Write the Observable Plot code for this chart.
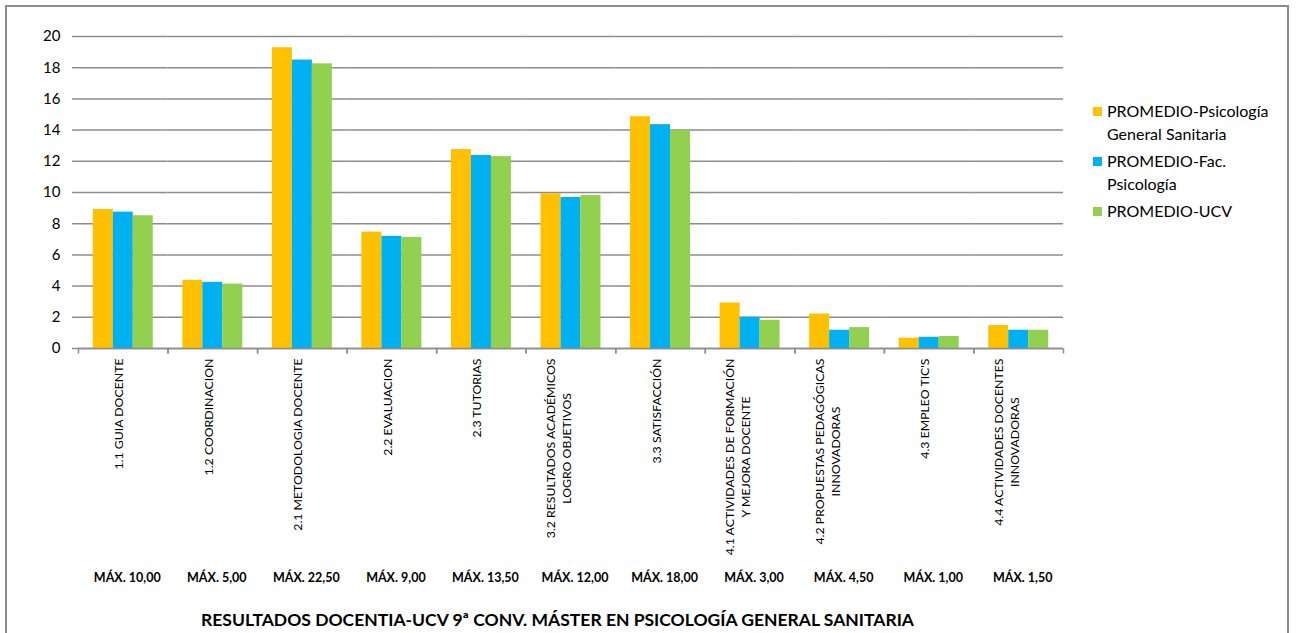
<!DOCTYPE html>
<html><head><meta charset="utf-8">
<script src="https://cdn.jsdelivr.net/npm/d3@7"></script>
<script src="https://cdn.jsdelivr.net/npm/@observablehq/plot@0.6"></script>
<style>
body{margin:0;background:#fff;font-family:Lato,sans-serif;}
#wrap{position:relative;width:1296px;height:633px;overflow:hidden;background:#fff;}
#border{position:absolute;left:5px;top:5px;width:1280px;height:700px;border:2px solid #8c8c8c;}
#chart{position:absolute;left:0;top:0;}
#legend{position:absolute;left:1093px;top:99px;width:186px;font-size:16px;line-height:23.3px;color:#000;}
.item{display:flex;align-items:flex-start;margin-bottom:3.5px;}
.sw{width:9px;height:9px;margin-top:8px;margin-right:5px;flex:none;}
#title{position:absolute;left:0;width:1115px;top:609px;text-align:center;font-weight:bold;font-size:17.5px;color:#000;}
</style></head>
<body>
<div id="wrap"><div id="border"></div><div id="chart"></div><div id="legend"></div><div id="title"></div></div>
<script>
const categories = [
  "1.1 GUIA DOCENTE",
  "1.2 COORDINACION",
  "2.1 METODOLOGIA DOCENTE",
  "2.2 EVALUACION",
  "2.3 TUTORIAS",
  "3.2 RESULTADOS ACADÉMICOS\nLOGRO OBJETIVOS",
  "3.3 SATISFACCIÓN",
  "4.1 ACTIVIDADES DE FORMACIÓN\nY MEJORA DOCENTE",
  "4.2 PROPUESTAS PEDAGÓGICAS\nINNOVADORAS",
  "4.3 EMPLEO TIC'S",
  "4.4 ACTIVIDADES DOCENTES\nINNOVADORAS"
];
const maxLabels = ["MÁX. 10,00","MÁX. 5,00","MÁX. 22,50","MÁX. 9,00","MÁX. 13,50","MÁX. 12,00","MÁX. 18,00","MÁX. 3,00","MÁX. 4,50","MÁX. 1,00","MÁX. 1,50"];
const series = ["PROMEDIO-Psicología General Sanitaria","PROMEDIO-Fac. Psicología","PROMEDIO-UCV"];
const promedioPGS = [8.91,4.37,19.28,7.46,12.75,9.92,14.86,2.92,2.21,0.66,1.47];
const promedioFac = [8.74,4.24,18.49,7.19,12.37,9.68,14.35,2.00,1.17,0.72,1.17];
const promedioUCV = [8.51,4.13,18.25,7.12,12.30,9.81,13.97,1.81,1.34,0.77,1.17];
const colors = ["#FFC000","#00B0F0","#92D050"];
const yTicks = [0,2,4,6,8,10,12,14,16,18,20];
const titleText = "RESULTADOS DOCENTIA-UCV 9ª CONV. MÁSTER EN PSICOLOGÍA GENERAL SANITARIA";

const valuesBySeries = [promedioPGS, promedioFac, promedioUCV];
const rows = [];
categories.forEach((c, i) => series.forEach((s, j) => rows.push({cat: c, series: s, value: valuesBySeries[j][i]})));

const W = 1296, H = 633, mt = 36, mb = 285, ml = 78, mr = 233;
const innerH = H - mt - mb;
const gray = "#8c8c8c";

const plot = Plot.plot({
  width: W, height: H,
  marginTop: mt, marginBottom: mb, marginLeft: ml, marginRight: mr,
  style: {fontFamily: "Lato, sans-serif", color: "#000", background: "transparent", overflow: "visible"},
  fx: {domain: categories, padding: 0, axis: null, round: false},
  x: {domain: series, paddingInner: 0, paddingOuter: 0.74, axis: null, round: false},
  y: {domain: [0, 20], axis: null},
  color: {domain: series, range: colors},
  marks: [
    Plot.gridY(yTicks, {stroke: gray, strokeOpacity: 1, strokeWidth: 1.5}),
    Plot.barY(rows, {fx: "cat", x: "series", y: "value", fill: "series"}),
    Plot.ruleY([0], {stroke: gray, strokeWidth: 1.5}),
    Plot.axisY(yTicks, {tickSize: 6, tickPadding: 12, fontSize: 15, stroke: gray, strokeWidth: 1.5, fill: "#000", line: true, label: null, tickFormat: d => String(d)}),
    Plot.frame({anchor: "left", insetTop: innerH, insetBottom: -5, stroke: gray, strokeWidth: 1.5, strokeLinecap: "butt"}),
    Plot.frame({anchor: "right", insetTop: innerH, insetBottom: -5, stroke: gray, strokeWidth: 1.5, strokeLinecap: "butt"}),
    Plot.text(categories, {fx: d => d, text: d => d, frameAnchor: "bottom", dy: 10, rotate: -90, textAnchor: "end", fontSize: 12.3, lineHeight: 1.3, fill: "#000"}),
    Plot.text(categories, {fx: d => d, text: (d, i) => maxLabels[i], frameAnchor: "bottom", dy: 233, dx: 4, fontWeight: "bold", fontSize: 12.5, lineAnchor: "bottom", fill: "#000"})
  ]
});
document.getElementById("chart").appendChild(plot);

// center secondary lines of multi-line category labels relative to the longest line
plot.querySelectorAll("text[transform*='rotate(-90']").forEach(t => {
  const spans = Array.from(t.querySelectorAll("tspan"));
  if (spans.length > 1) {
    const lens = spans.map(s => s.getComputedTextLength());
    const m = Math.max(...lens);
    spans.forEach((s, k) => s.setAttribute("x", -(m - lens[k]) / 2));
  }
});

const legend = d3.select("#legend");
series.forEach((s, j) => {
  const it = legend.append("div").attr("class", "item");
  it.append("div").attr("class", "sw").style("background", colors[j]);
  it.append("div").text(s);
});
document.getElementById("title").textContent = titleText;
</script>
</body></html>
